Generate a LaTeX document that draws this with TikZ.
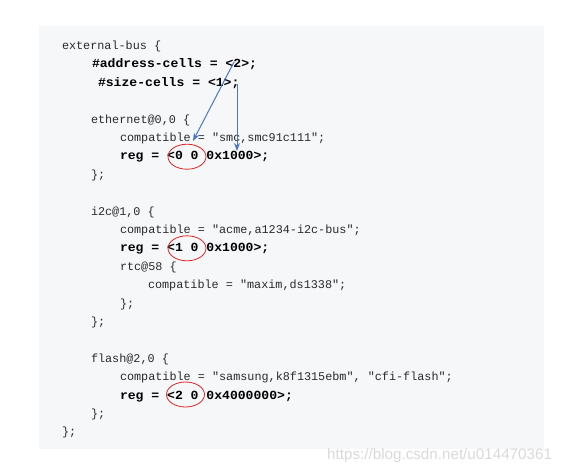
\documentclass[tikz,border=0pt]{standalone}
\usepackage{fontspec}
\usepackage{graphicx}
\usetikzlibrary{arrows.meta,shapes.geometric}
\newfontfamily\codefont{Liberation Mono}
\newfontfamily\wmfont{Liberation Sans}
\definecolor{bgbox}{HTML}{F6F7F9}
\definecolor{codetxt}{HTML}{2A2A2A}
\definecolor{arrowblue}{HTML}{4A76C8}
\definecolor{circred}{HTML}{E02424}
\definecolor{wmgray}{HTML}{D9D9D9}
\tikzset{
  code/.style={anchor=base west, inner sep=0pt, outer sep=0pt, text=codetxt, font=\codefont\fontsize{11.8}{14}\selectfont},
  boldcode/.style={anchor=base west, inner sep=0pt, outer sep=0pt, text=black, font=\codefont\bfseries\fontsize{11.8}{14}\selectfont},
  bluearrow/.style={draw=arrowblue, line width=1pt, -{Stealth[length=8pt,width=6pt]}},
  redring/.style={draw=circred, line width=0.8pt, ellipse, minimum width=38pt, minimum height=25pt, inner sep=0pt},
}
\newcommand{\bx}[1]{\scalebox{1.11}[1.05]{#1}}
\begin{document}
\begin{tikzpicture}[x=1pt,y=-1pt]
\useasboundingbox (0,0) rectangle (573,472);
\fill[bgbox] (39,26) rectangle (544,449);
% code lines
\node[code] (l0) at (62,49.5) {external-bus \{};
\node[boldcode] (l1) at (92,67.9) {\bx{\#address-cells = <2>;}};
\node[boldcode] (l2) at (98,86.3) {\bx{\#size-cells = <1>;}};
\node[code] (l4) at (91,123.1) {ethernet@0,0 \{};
\node[code] (l5) at (120,141.5) {compatible = "smc,smc91c111";};
\node[boldcode] (l6) at (120,159.9) {\bx{reg = <0 0 0x1000>;}};
\node[code] (l7) at (91,178.3) {\};};
\node[code] (l9) at (91,215.1) {i2c@1,0 \{};
\node[code] (l10) at (120,233.5) {compatible = "acme,a1234-i2c-bus";};
\node[boldcode] (l11) at (120,251.9) {\bx{reg = <1 0 0x1000>;}};
\node[code] (l12) at (120,270.3) {rtc@58 \{};
\node[code] (l13) at (148,288.7) {compatible = "maxim,ds1338";};
\node[code] (l14) at (120,307.1) {\};};
\node[code] (l15) at (91,325.5) {\};};
\node[code] (l17) at (91,362.3) {flash@2,0 \{};
\node[code] (l18) at (120,380.7) {compatible = "samsung,k8f1315ebm", "cfi-flash";};
\node[boldcode] (l19) at (120,399.1) {\bx{reg = <2 0 0x4000000>;}};
\node[code] (l20) at (91,417.5) {\};};
\node[code] (l21) at (62,435.9) {\};};
% red rings
\node[redring] (r1) at (187,156.7) {};
\node[redring] (r2) at (187,248.3) {};
\node[redring] (r3) at (185.5,394.5) {};
% blue arrows
\coordinate (a2) at (234,62);
\coordinate (t1) at (193,141);
\coordinate (s1) at (237,84);
\coordinate (t2) at (237,151);
\draw[bluearrow] (a2) -- (t1);
\draw[bluearrow] (s1) -- (t2);
% watermark
\node[anchor=base west, inner sep=0pt, text=wmgray, font=\wmfont\fontsize{15.2}{17}\selectfont] (wm) at (327,459) {https://blog.csdn.net/u014470361};
\end{tikzpicture}
\end{document}
